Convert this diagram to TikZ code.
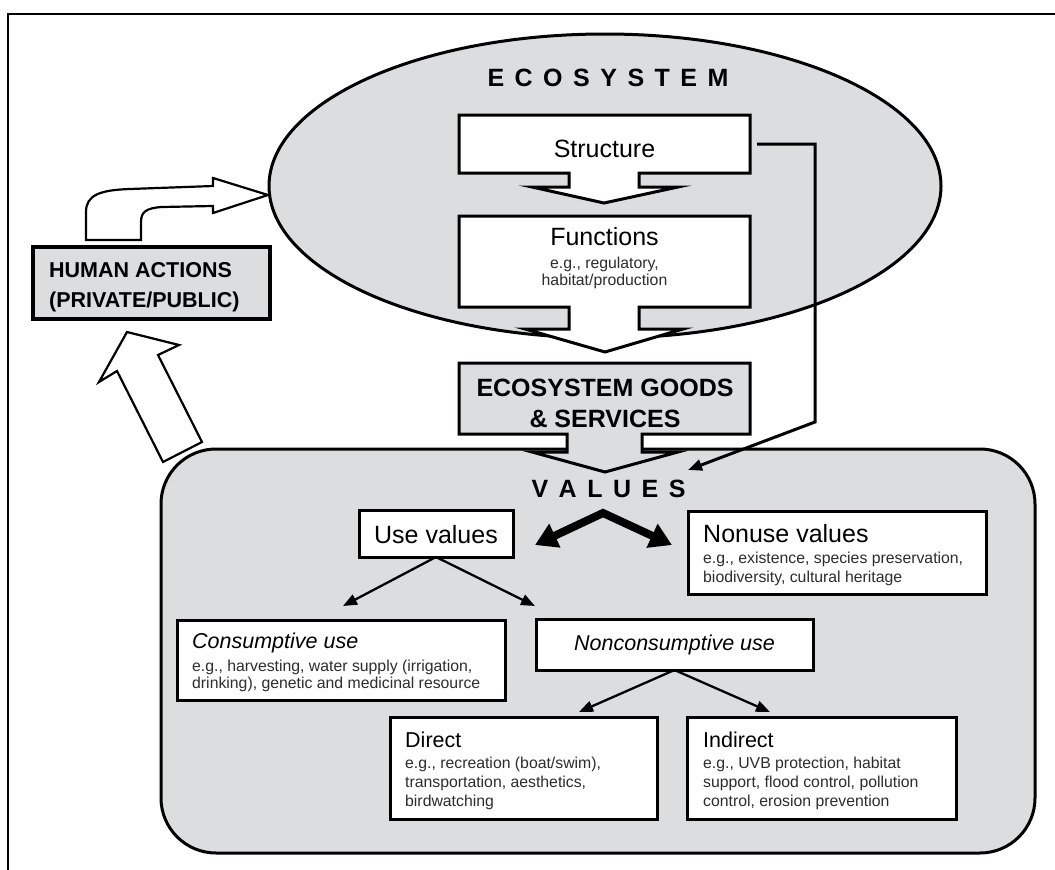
\documentclass[tikz,border=0pt]{standalone}
\usepackage{fontspec}
\setmainfont{Liberation Sans}
\usetikzlibrary{arrows.meta,calc}
\definecolor{ecogray}{RGB}{220,221,223}
\definecolor{txtgray}{RGB}{45,45,45}
\newcommand\lsp{\kern10.5pt}
\newcommand\fs[1]{\fontsize{#1}{#1}\selectfont}

\begin{document}
\begin{tikzpicture}[x=1pt,y=-1pt,
  outline/.style={draw=black, line width=3pt, line join=miter},
  wbox/.style={outline, fill=white, inner sep=0pt, outer sep=0pt},
  gbox/.style={outline, fill=ecogray, inner sep=0pt, outer sep=0pt},
  title/.style={font=\fs{25}\bfseries, inner sep=0pt},
  big/.style={font=\fs{25}, inner sep=0pt},
  bigit/.style={font=\fs{21.5}\itshape, inner sep=0pt},
  mid/.style={font=\fs{21.5}, inner sep=0pt},
  small/.style={font=\fs{15.8}, text=txtgray, inner sep=0pt},
  thinarrow/.style={line width=2.3pt, -{Triangle[length=14pt,width=11pt]}},
  heavy/.style={line width=8pt, line join=miter,
    {Triangle[length=22pt,width=25pt]}-{Triangle[length=22pt,width=25pt]}},
  blockarrow/.style={draw=black, line width=2.2pt, fill=white, line join=miter},
]
\useasboundingbox (0,0) rectangle (1055,870);
\fill[white] (0,0) rectangle (1055,870);

% outer frame
\draw[line width=2.2pt] (8,870) -- (8,14) -- (1055,14);

% ecosystem ellipse
\draw[outline, fill=ecogray] (605,186) ellipse [x radius=336pt, y radius=152pt];
\node[title, anchor=base] (ecolabel) at (608,86)
  {E\lsp C\lsp O\lsp S\lsp Y\lsp S\lsp T\lsp E\lsp M};

% human actions -> ecosystem (bent block arrow)
\draw[blockarrow] (86,240) -- (86,212) .. controls (86,195) and (100,190) .. (130,189)
  -- (213,186) -- (213,178) -- (268,195) -- (213,213) -- (213,206) -- (162,207)
  .. controls (146,208) and (141,212) .. (141,222) -- (141,240) -- cycle;

% structure box with its down arrow
\draw[outline, fill=white] (459,115) -- (750,115) -- (750,173) -- (639,173) -- (639,187)
  -- (678,187) -- (604,203) -- (532,187) -- (569,187) -- (569,173) -- (459,173) -- cycle;
\node[inner sep=0pt, outer sep=0pt, minimum width=291pt, minimum height=58pt] (structbox) at (604.5,144) {};
\node[big, anchor=base] (structure) at (604.5,157) {Structure};

% functions box with its down arrow
\draw[outline, fill=white] (459,216) -- (750,216) -- (750,307) -- (639,307) -- (639,329)
  -- (683,329) -- (605,352) -- (525,329) -- (569,329) -- (569,307) -- (459,307) -- cycle;
\node[big, anchor=base] (functions) at (604.5,245) {Functions};
\node[small, anchor=base] (funcex1) at (604.5,268) {e.g., regulatory,};
\node[small, anchor=base] (funcex2) at (604.5,285) {habitat/production};

% human actions box
\node[gbox, line width=3.5pt, minimum width=237pt, minimum height=72pt] (human) at (151.5,283) {};
\node[font=\fs{21.5}\bfseries, inner sep=0pt, anchor=base west] (human1) at (49,277) {HUMAN ACTIONS};
\node[font=\fs{21.5}\bfseries, inner sep=0pt, anchor=base west] (human2) at (49,307) {(PRIVATE/PUBLIC)};

% values -> human actions (tilted block arrow)
\draw[blockarrow] (163,462) -- (117,371) -- (99,382) -- (127,332) -- (179,345)
  -- (158,355) -- (202,442) -- cycle;

% values region
\draw[outline, fill=ecogray, rounded corners=55pt] (161,449) rectangle (1035,853);
\node[title, anchor=base] (valueslabel) at (608.5,497) {V\lsp A\lsp L\lsp U\lsp E\lsp S};

% goods and services box with its down arrow
\draw[outline, fill=ecogray] (459,363) -- (750,363) -- (750,434) -- (642,434) -- (642,452)
  -- (678,452) -- (605,472) -- (532,452) -- (567,452) -- (567,434) -- (459,434) -- cycle;
\node[title, anchor=base] (goods1) at (605,396) {ECOSYSTEM GOODS};
\node[title, anchor=base] (goods2) at (605,427) {\& SERVICES};

% structure -> values connector
\coordinate (bend) at (815,422);
\coordinate (valuesin) at (688,470);
\draw[line width=3pt, line join=miter, -{Triangle[length=14pt,width=11pt]}]
  ([xshift=7pt]structbox.east) -| (bend) -- (valuesin);

% use / nonuse split
\coordinate (apex) at (603,513);
\coordinate (chevL) at (535,545);
\coordinate (chevR) at (672,545);
\draw[heavy] (chevL) -- (apex) -- (chevR);

\node[wbox, minimum width=154pt, minimum height=47pt] (usev) at (436,533.5) {};
\node[big, anchor=base] (usevtext) at (436,543) {Use values};

\node[wbox, minimum width=298pt, minimum height=83pt] (nonuse) at (837,552.5) {};
\node[big, anchor=base west] (nonusetext) at (703,542) {Nonuse values};
\node[small, anchor=base west] (nonuseex1) at (703,563) {e.g., existence, species preservation,};
\node[small, anchor=base west] (nonuseex2) at (703,582) {biodiversity, cultural heritage};

% use values -> consumptive / nonconsumptive
\coordinate (toCons) at (343,606);
\coordinate (toNonc) at (535,606);
\draw[thinarrow] (usev.south) -- (toCons);
\draw[thinarrow] (usev.south) -- (toNonc);

\node[wbox, minimum width=328pt, minimum height=80pt] (cons) at (341,660) {};
\node[bigit, anchor=base west] (constext) at (192,648) {Consumptive use};
\node[small, anchor=base west] (consex1) at (192,671) {e.g., harvesting, water supply (irrigation,};
\node[small, anchor=base west] (consex2) at (192,688) {drinking), genetic and medicinal resource};

\node[wbox, minimum width=277pt, minimum height=51pt] (noncons) at (674.5,644.5) {};
\node[bigit, anchor=base] (nonconstext) at (674.5,650) {Nonconsumptive use};

% nonconsumptive -> direct / indirect
\coordinate (toDir) at (579,712);
\coordinate (toInd) at (770,712);
\draw[thinarrow] (noncons.south) -- (toDir);
\draw[thinarrow] (noncons.south) -- (toInd);

\node[wbox, minimum width=267pt, minimum height=102pt] (direct) at (523.5,768) {};
\node[mid, anchor=base west] (directtext) at (405,747) {Direct};
\node[small, anchor=base west] (directex1) at (405,768) {e.g., recreation (boat/swim),};
\node[small, anchor=base west] (directex2) at (405,787) {transportation, aesthetics,};
\node[small, anchor=base west] (directex3) at (405,806) {birdwatching};

\node[wbox, minimum width=269pt, minimum height=102pt] (indirect) at (821.5,768) {};
\node[mid, anchor=base west] (indirecttext) at (703,747) {Indirect};
\node[small, anchor=base west] (indirectex1) at (703,768) {e.g., UVB protection, habitat};
\node[small, anchor=base west] (indirectex2) at (703,787) {support, flood control, pollution};
\node[small, anchor=base west] (indirectex3) at (703,806) {control, erosion prevention};
\end{tikzpicture}
\end{document}
